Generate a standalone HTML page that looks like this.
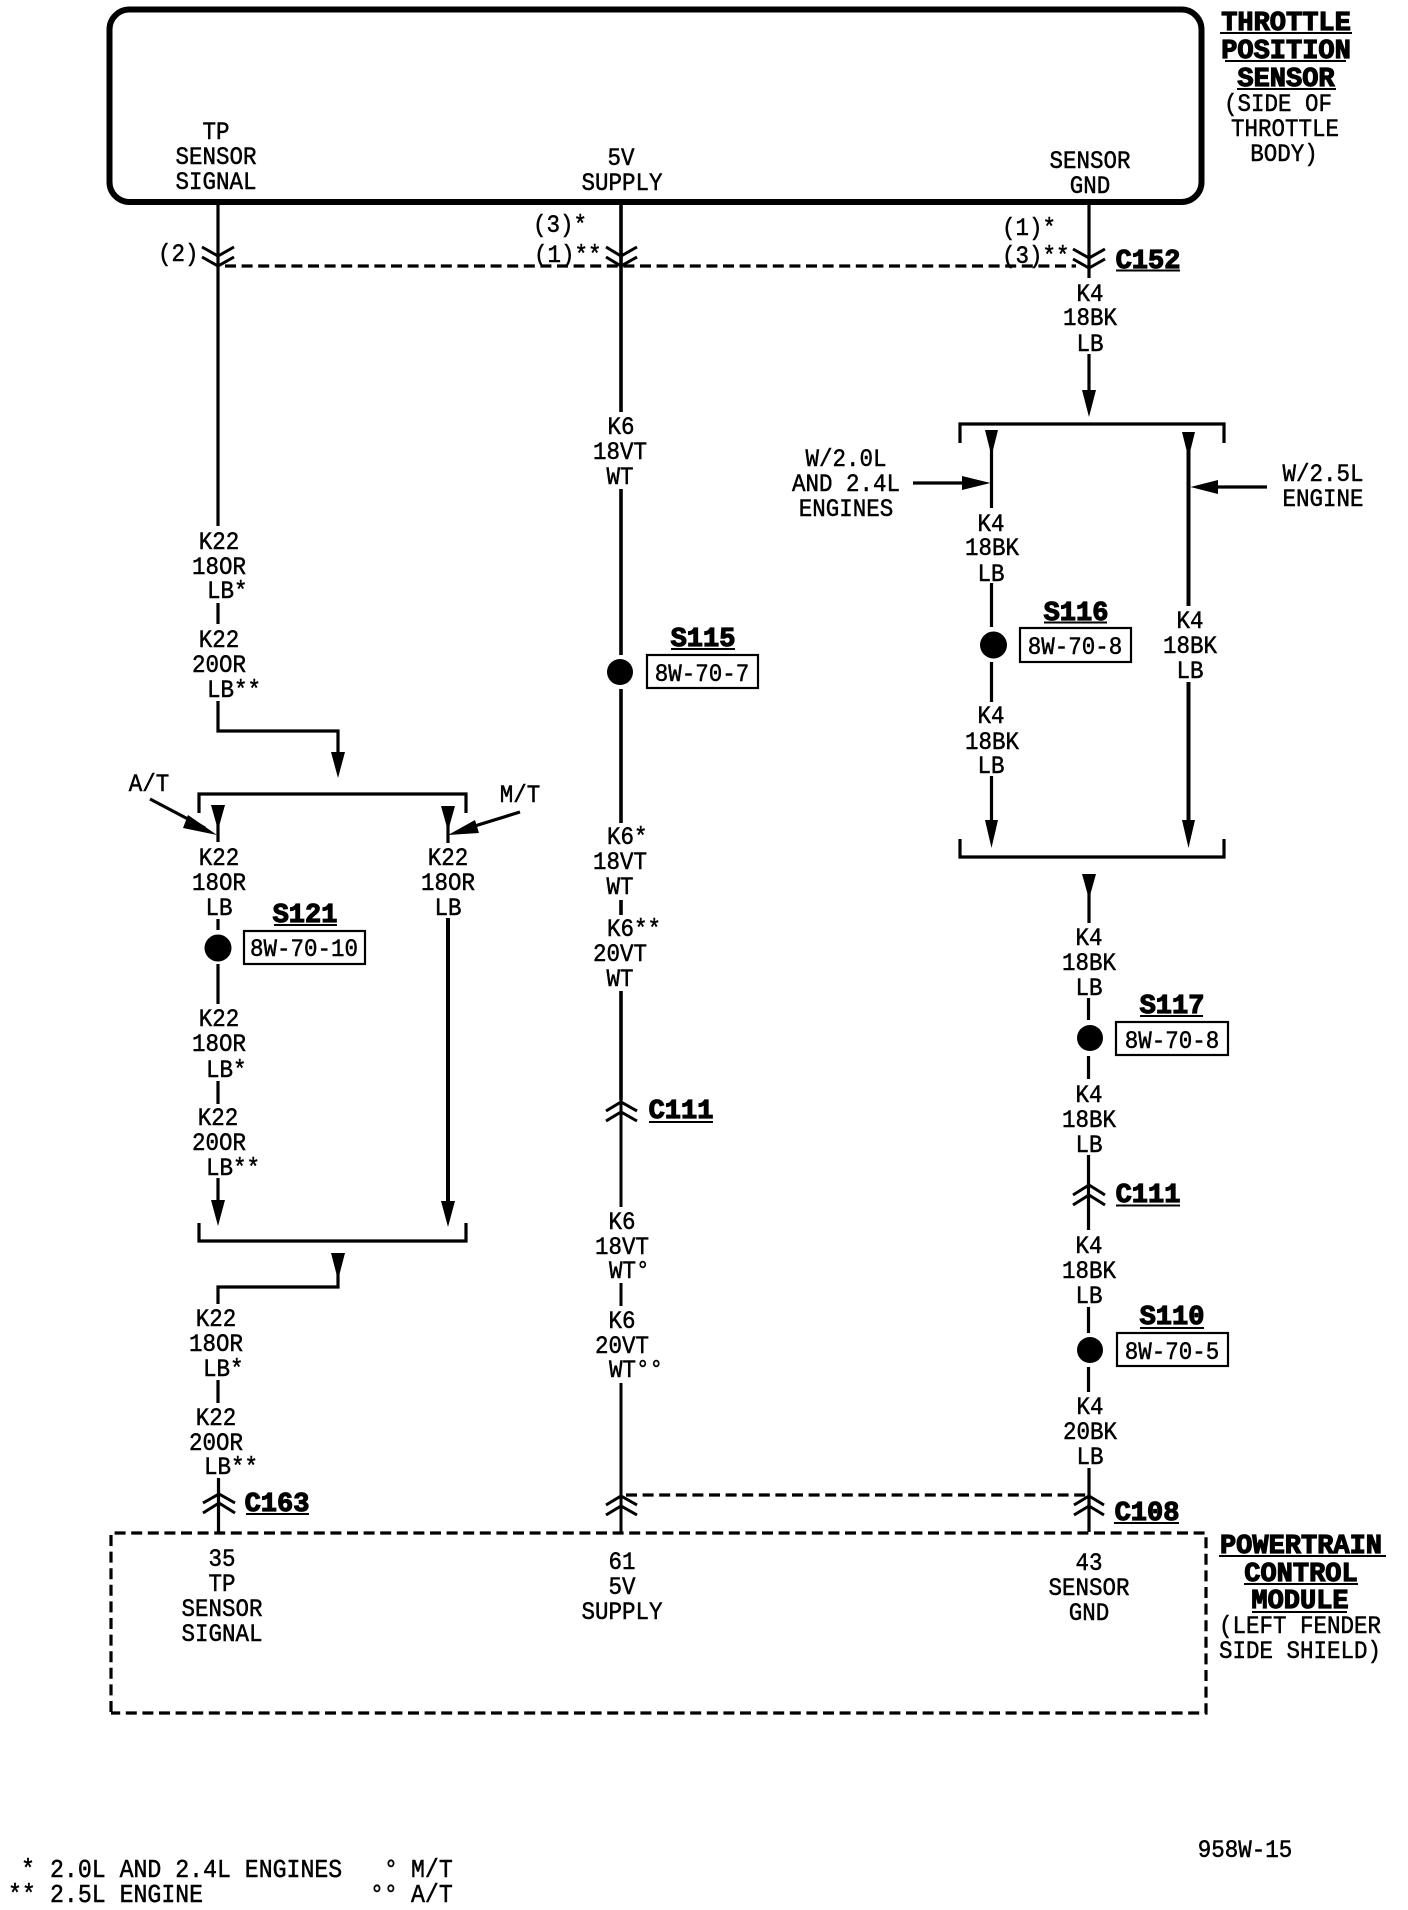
<!DOCTYPE html>
<html lang="en">
<head>
<meta charset="utf-8">
<title>Throttle Position Sensor wiring diagram</title>
<style>
html,body{margin:0;padding:0;background:#fff}
svg{display:block}
text{font-family:"Liberation Mono",monospace;fill:#000}
.n text{font-size:22.5px;stroke:#000;stroke-width:.45px}
.n text.l{font-size:23.2px}
.c{text-anchor:middle}
.b text{font-size:27px;font-weight:bold;stroke:#000;stroke-width:1.2px}
.w{fill:none;stroke:#000;stroke-width:3.2}
.t{fill:none;stroke:#000;stroke-width:4}
.m{fill:none;stroke:#000;stroke-width:3.6}
.d{fill:none;stroke:#000;stroke-width:3.2;stroke-dasharray:11 5.6}
.u{stroke:#000;stroke-width:2}
.x{fill:#fff;stroke:#000;stroke-width:2.2}
</style>
</head>
<body>
<svg xmlns="http://www.w3.org/2000/svg" width="1408" height="1910" viewBox="0 0 1408 1910">
<rect width="1408" height="1910" fill="#fff"/>

<!-- Throttle position sensor frame -->
<rect x="109.5" y="9.5" width="1092" height="192.5" rx="20" fill="none" stroke="#000" stroke-width="6"/>

<!-- Dashed connector lines -->
<path class="d" d="M225 266H1076"/>
<path class="d" d="M626 1495H1086"/>
<path class="d" d="M111 1712V1533H1206V1713H111"/>

<!-- Left wire -->
<path class="w" d="M218 202V526M218 603V624M218 701V731H338V756"/>
<path d="M331 752H345L338 778Z"/>
<path class="w" d="M199 813V794H466V813"/>
<path class="w" d="M218 820V842M448 820V843"/>
<path d="M211 805H225L218 830Z"/>
<path d="M441 806H455L448 831Z"/>
<path class="w" d="M150 799L205 828"/>
<path d="M188 815L217 835L183 828Z"/>
<path class="w" d="M520 812L465 829"/>
<path d="M475 820L448 835L479 833Z"/>
<path class="w" d="M218 919V930M218 964V1004M218 1081V1104M218 1178V1205"/>
<path d="M211 1200H225L218 1226Z"/>
<path class="t" d="M448 918V1205"/>
<path d="M441 1201H455L448 1227Z"/>
<path class="w" d="M199 1223V1241H466V1223"/>
<path d="M331 1253H345L338 1280Z"/>
<path class="w" d="M338 1270V1287H218V1304M218 1380V1403M218.5 1478V1532"/>
<circle cx="218" cy="948" r="13.5"/>

<!-- Center wire -->
<path class="m" d="M621 202V412M621 489V655M621 689V823M621 900V915M621 991V1100"/>
<path class="w" style="stroke-width:3" d="M621 1100V1207M621 1283V1306M621 1383V1532"/>
<circle cx="620" cy="672" r="13"/>

<!-- Right wire -->
<path class="w" d="M1089 202V278M1089 354V395"/>
<path d="M1082 390H1096L1089 417Z"/>
<path class="w" d="M960 443V424H1224V443"/>
<path class="w" d="M991.5 445V508M991.5 583V627M991.5 662V702M991.5 776V825"/>
<path class="t" d="M1188.5 445V606M1188.5 682V825"/>
<path d="M985 430H998L991.5 456Z"/>
<path d="M1182 432H1195L1188.5 458Z"/>
<path d="M985 820H998L991.5 848Z"/>
<path d="M1182 820H1195L1188.5 848Z"/>
<path class="w" d="M913 483H965M1267 487H1215"/>
<path d="M962 476L990.5 483L962 490Z"/>
<path d="M1218 480L1190.5 487L1218 494Z"/>
<circle cx="993.5" cy="645" r="13.5"/>
<path class="w" d="M960 839V857H1224V839"/>
<path d="M1082 874H1096L1089 899Z"/>
<path class="w" d="M1089 890V923M1088.5 998V1020M1088.5 1056V1079M1088.5 1155V1230M1088.5 1307V1333M1088.5 1367V1392M1089 1468V1532"/>
<circle cx="1090" cy="1038" r="13"/>
<circle cx="1090" cy="1350" r="13"/>

<!-- Connector chevrons -->
<g class="w" style="stroke-width:3">
<path d="M202 247L218 256L234 247M202 257L218 266L234 257"/>
<path d="M606 247L621 256L637 247M606 257L621 266L637 257"/>
<path d="M1073 249L1089 258L1105 249M1073 259L1089 268L1105 259"/>
<path d="M606 1111L621 1102L637 1111M606 1121L621 1112L637 1121"/>
<path d="M1073 1195L1089 1185L1105 1195M1073 1205L1089 1195L1105 1205"/>
<path d="M203 1503L219 1494L235 1503M203 1513L219 1503L235 1513"/>
<path d="M606 1505L621 1496L637 1505M606 1515L621 1506L637 1515"/>
<path d="M1074 1505L1089 1496L1104 1505M1074 1515L1089 1506L1104 1515"/>
</g>

<!-- Underlines -->
<g class="u">
<path d="M1220 33H1352M1225 61H1346M1237 89H1336"/>
<path d="M1116 270.5H1180"/>
<path d="M1044 622.5H1107M1140 1016H1203M1140 1328H1204"/>
<path d="M671 649H735M649 1122H713"/>
<path d="M274 925H337M246 1514H309"/>
<path d="M1116 1205.5H1180M1114 1523H1179"/>
<path d="M1219 1556H1386M1244 1584H1358M1252 1612H1347"/>
</g>

<!-- Diagram reference boxes -->
<rect class="x" x="647" y="655" width="111" height="33"/>
<rect class="x" x="1020" y="628" width="111" height="34"/>
<rect class="x" x="1116" y="1022" width="112" height="33"/>
<rect class="x" x="1117" y="1333" width="111" height="33"/>
<rect class="x" x="244" y="931" width="121" height="33"/>

<!-- Bold titles -->
<g class="b">
<text class="c" x="1286" y="30">THROTTLE</text>
<text class="c" x="1286" y="58">POSITION</text>
<text class="c" x="1286" y="86">SENSOR</text>
<text class="c" x="1148" y="268">C152</text>
<text class="c" x="1076" y="620">S116</text>
<text class="c" x="703" y="646">S115</text>
<text class="c" x="305" y="922">S121</text>
<text class="c" x="1172" y="1013">S117</text>
<text class="c" x="1172" y="1324">S110</text>
<text class="c" x="681" y="1118">C111</text>
<text class="c" x="1148" y="1202">C111</text>
<text class="c" x="277" y="1511">C163</text>
<text class="c" x="1147" y="1520">C108</text>
<text class="c" x="1301" y="1553">POWERTRAIN</text>
<text class="c" x="1301" y="1581">CONTROL</text>
<text class="c" x="1300" y="1608">MODULE</text>
</g>

<!-- Normal labels -->
<g class="n">
<text class="c" transform="matrix(1 0 0 1.12 1278 111)">(SIDE OF</text>
<text class="c" transform="matrix(1 0 0 1.12 1285 136)">THROTTLE</text>
<text class="c" transform="matrix(1 0 0 1.12 1284 161)">BODY)</text>

<text class="c" transform="matrix(1 0 0 1.12 216 139)">TP</text>
<text class="c" transform="matrix(1 0 0 1.12 216 164)">SENSOR</text>
<text class="c" transform="matrix(1 0 0 1.12 216 189)">SIGNAL</text>
<text class="c" transform="matrix(1 0 0 1.12 621 165)">5V</text>
<text class="c" transform="matrix(1 0 0 1.12 622 190)">SUPPLY</text>
<text class="c" transform="matrix(1 0 0 1.12 1090 168)">SENSOR</text>
<text class="c" transform="matrix(1 0 0 1.12 1090 193)">GND</text>

<text transform="matrix(1 0 0 1.12 158 261)">(2)</text>
<text transform="matrix(1 0 0 1.12 533 232)">(3)*</text>
<text transform="matrix(1 0 0 1.12 534 262)">(1)**</text>
<text transform="matrix(1 0 0 1.12 1002 235)">(1)*</text>
<text transform="matrix(1 0 0 1.12 1002 263)">(3)**</text>

<text class="c" transform="matrix(1 0 0 1.12 1090 301)">K4</text>
<text class="c" transform="matrix(1 0 0 1.12 1090 325)">18BK</text>
<text class="c" transform="matrix(1 0 0 1.12 1090 351)">LB</text>

<text class="c" transform="matrix(1 0 0 1.12 846 466)">W/2.0L</text>
<text class="c" transform="matrix(1 0 0 1.12 846 491)">AND 2.4L</text>
<text class="c" transform="matrix(1 0 0 1.12 846 516)">ENGINES</text>
<text class="c" transform="matrix(1 0 0 1.12 1323 481)">W/2.5L</text>
<text class="c" transform="matrix(1 0 0 1.12 1323 506)">ENGINE</text>

<text class="c" transform="matrix(1 0 0 1.12 991 531)">K4</text>
<text class="c" transform="matrix(1 0 0 1.12 992 555)">18BK</text>
<text class="c" transform="matrix(1 0 0 1.12 991 581)">LB</text>
<text class="c" transform="matrix(1 0 0 1.12 991 723)">K4</text>
<text class="c" transform="matrix(1 0 0 1.12 992 749)">18BK</text>
<text class="c" transform="matrix(1 0 0 1.12 991 773)">LB</text>
<text class="c" transform="matrix(1 0 0 1.12 1190 628)">K4</text>
<text class="c" transform="matrix(1 0 0 1.12 1190 653)">18BK</text>
<text class="c" transform="matrix(1 0 0 1.12 1190 678)">LB</text>

<text class="c" transform="matrix(1 0 0 1.12 1075 654)">8W-70-8</text>
<text class="c" transform="matrix(1 0 0 1.12 702 681)">8W-70-7</text>
<text class="c" transform="matrix(1 0 0 1.12 1172 1048)">8W-70-8</text>
<text class="c" transform="matrix(1 0 0 1.12 1172 1359)">8W-70-5</text>
<text class="c" transform="matrix(1 0 0 1.12 304 956)">8W-70-10</text>

<text class="c" transform="matrix(1 0 0 1.12 1089 945)">K4</text>
<text class="c" transform="matrix(1 0 0 1.12 1089 970)">18BK</text>
<text class="c" transform="matrix(1 0 0 1.12 1089 995)">LB</text>
<text class="c" transform="matrix(1 0 0 1.12 1089 1102)">K4</text>
<text class="c" transform="matrix(1 0 0 1.12 1089 1127)">18BK</text>
<text class="c" transform="matrix(1 0 0 1.12 1089 1152)">LB</text>
<text class="c" transform="matrix(1 0 0 1.12 1089 1253)">K4</text>
<text class="c" transform="matrix(1 0 0 1.12 1089 1278)">18BK</text>
<text class="c" transform="matrix(1 0 0 1.12 1089 1303)">LB</text>
<text class="c" transform="matrix(1 0 0 1.12 1090 1414)">K4</text>
<text class="c" transform="matrix(1 0 0 1.12 1090 1439)">20BK</text>
<text class="c" transform="matrix(1 0 0 1.12 1090 1464)">LB</text>

<text class="c" transform="matrix(1 0 0 1.12 621 434)">K6</text>
<text class="c" transform="matrix(1 0 0 1.12 620 459)">18VT</text>
<text class="c" transform="matrix(1 0 0 1.12 620 484)">WT</text>
<text transform="matrix(1 0 0 1.12 607 844)">K6*</text>
<text class="c" transform="matrix(1 0 0 1.12 620 869)">18VT</text>
<text class="c" transform="matrix(1 0 0 1.12 620 894)">WT</text>
<text transform="matrix(1 0 0 1.12 607 936)">K6**</text>
<text class="c" transform="matrix(1 0 0 1.12 620 961)">20VT</text>
<text class="c" transform="matrix(1 0 0 1.12 620 986)">WT</text>
<text class="c" transform="matrix(1 0 0 1.12 622 1229)">K6</text>
<text class="c" transform="matrix(1 0 0 1.12 622 1254)">18VT</text>
<text transform="matrix(1 0 0 1.12 609 1278)">WT°</text>
<text class="c" transform="matrix(1 0 0 1.12 622 1328)">K6</text>
<text class="c" transform="matrix(1 0 0 1.12 622 1353)">20VT</text>
<text transform="matrix(1 0 0 1.12 609 1377)">WT°°</text>

<text class="c" transform="matrix(1 0 0 1.12 219 549)">K22</text>
<text class="c" transform="matrix(1 0 0 1.12 219 574)">18OR</text>
<text transform="matrix(1 0 0 1.12 207 598)">LB*</text>
<text class="c" transform="matrix(1 0 0 1.12 219 647)">K22</text>
<text class="c" transform="matrix(1 0 0 1.12 219 672)">20OR</text>
<text transform="matrix(1 0 0 1.12 207 697)">LB**</text>

<text class="c" transform="matrix(1 0 0 1.12 149 791)">A/T</text>
<text class="c" transform="matrix(1 0 0 1.12 520 802)">M/T</text>
<text class="c" transform="matrix(1 0 0 1.12 219 865)">K22</text>
<text class="c" transform="matrix(1 0 0 1.12 219 890)">18OR</text>
<text class="c" transform="matrix(1 0 0 1.12 219 915)">LB</text>
<text class="c" transform="matrix(1 0 0 1.12 448 865)">K22</text>
<text class="c" transform="matrix(1 0 0 1.12 448 890)">18OR</text>
<text class="c" transform="matrix(1 0 0 1.12 448 915)">LB</text>
<text class="c" transform="matrix(1 0 0 1.12 219 1026)">K22</text>
<text class="c" transform="matrix(1 0 0 1.12 219 1051)">18OR</text>
<text transform="matrix(1 0 0 1.12 206 1077)">LB*</text>
<text class="c" transform="matrix(1 0 0 1.12 218 1125)">K22</text>
<text class="c" transform="matrix(1 0 0 1.12 219 1150)">20OR</text>
<text transform="matrix(1 0 0 1.12 206 1175)">LB**</text>

<text class="c" transform="matrix(1 0 0 1.12 216 1326)">K22</text>
<text class="c" transform="matrix(1 0 0 1.12 216 1351)">18OR</text>
<text transform="matrix(1 0 0 1.12 203 1376)">LB*</text>
<text class="c" transform="matrix(1 0 0 1.12 216 1425)">K22</text>
<text class="c" transform="matrix(1 0 0 1.12 216 1450)">20OR</text>
<text transform="matrix(1 0 0 1.12 204 1474)">LB**</text>

<text class="c" transform="matrix(1 0 0 1.12 222 1566)">35</text>
<text class="c" transform="matrix(1 0 0 1.12 222 1591)">TP</text>
<text class="c" transform="matrix(1 0 0 1.12 222 1616)">SENSOR</text>
<text class="c" transform="matrix(1 0 0 1.12 222 1641)">SIGNAL</text>
<text class="c" transform="matrix(1 0 0 1.12 622 1569)">61</text>
<text class="c" transform="matrix(1 0 0 1.12 622 1594)">5V</text>
<text class="c" transform="matrix(1 0 0 1.12 622 1619)">SUPPLY</text>
<text class="c" transform="matrix(1 0 0 1.12 1089 1570)">43</text>
<text class="c" transform="matrix(1 0 0 1.12 1089 1595)">SENSOR</text>
<text class="c" transform="matrix(1 0 0 1.12 1089 1620)">GND</text>

<text class="c" transform="matrix(1 0 0 1.12 1300 1633)">(LEFT FENDER</text>
<text class="c" transform="matrix(1 0 0 1.12 1300 1658)">SIDE SHIELD)</text>
<text class="c" transform="matrix(1 0 0 1.12 1245 1857)">958W-15</text>

<text class="l" transform="matrix(1 0 0 1.1 21 1877)">*</text>
<text class="l" transform="matrix(1 0 0 1.1 50 1877)">2.0L AND 2.4L ENGINES</text>
<text class="l" transform="matrix(1 0 0 1.1 8 1902)">**</text>
<text class="l" transform="matrix(1 0 0 1.1 50 1902)">2.5L ENGINE</text>
<text class="l" transform="matrix(1 0 0 1.1 384 1877)">°</text>
<text class="l" transform="matrix(1 0 0 1.1 411 1877)">M/T</text>
<text class="l" transform="matrix(1 0 0 1.1 370 1902)">°°</text>
<text class="l" transform="matrix(1 0 0 1.1 411 1902)">A/T</text>
</g>
</svg>
</body>
</html>
